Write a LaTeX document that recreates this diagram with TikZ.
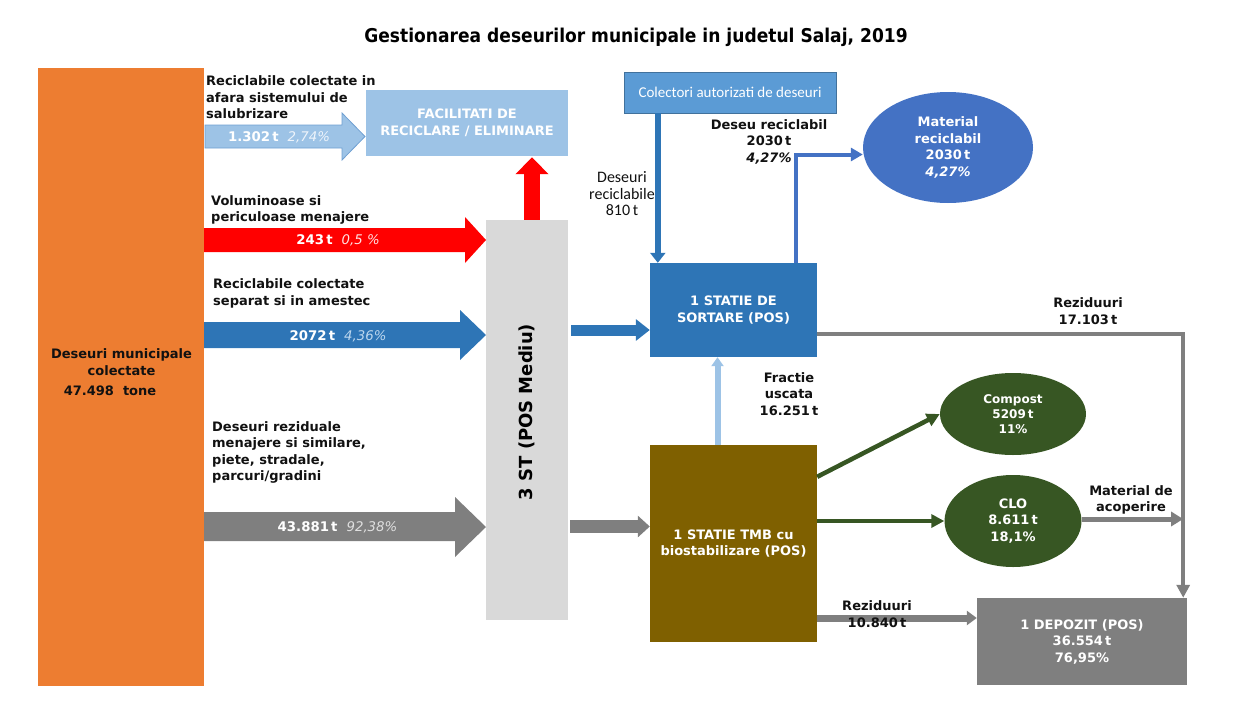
\documentclass[tikz,border=0pt]{standalone}
\usepackage{fontspec}
\setmainfont{DejaVu Sans}
\newfontfamily\titlefont[FakeStretch=0.9]{DejaVu Sans}
\newfontfamily\calib{Carlito}
\usetikzlibrary{arrows.meta,shapes.geometric,calc}
\definecolor{corange}{HTML}{ED7D31}
\definecolor{clb}{HTML}{9DC3E6}
\definecolor{clbb}{HTML}{6FA0D2}
\definecolor{cred}{HTML}{FF0000}
\definecolor{cblue}{HTML}{2E75B6}
\definecolor{cgray}{HTML}{7F7F7F}
\definecolor{cst}{HTML}{D9D9D9}
\definecolor{ccol}{HTML}{5B9BD5}
\definecolor{ccolb}{HTML}{41719C}
\definecolor{cmat}{HTML}{4472C4}
\definecolor{cgreen}{HTML}{375623}
\definecolor{ctmb}{HTML}{7F6000}
\definecolor{ctxt}{HTML}{111111}
\definecolor{plb}{HTML}{EEF4FB}
\definecolor{pred}{HTML}{FFE3E3}
\definecolor{pblue}{HTML}{BDD7EE}
\definecolor{pgray}{HTML}{E0E0E0}
\newcommand\pctf{\mdseries\itshape}
\begin{document}
\begin{tikzpicture}[x=1pt,y=-1pt,
  lbl/.style={font=\bfseries\fontsize{13}{16.5}\selectfont, text=ctxt, inner sep=0pt},
  lblL/.style={lbl, anchor=west, align=left},
  lblC/.style={lbl, align=center},
  blk/.style={rectangle, inner sep=0pt, align=center, text=white, font=\bfseries\fontsize{13}{16.5}\selectfont},
  ell/.style={ellipse, inner sep=0pt, align=center, text=white, font=\bfseries\fontsize{13}{16.5}\selectfont},
  intxt/.style={text=white, font=\bfseries\fontsize{13.3}{15}\selectfont, inner sep=0pt}
]
\useasboundingbox (0,0) rectangle (1252,704);

% title
\node[font=\titlefont\bfseries\fontsize{19}{21}\selectfont, text=black, inner sep=0pt] (title) at (636,37) {Gestionarea deseurilor municipale in judetul Salaj, 2019};

% main boxes
\node[blk, fill=corange, minimum width=166pt, minimum height=618pt] (orange) at (121,377) {};
\node[lblC] (orgtxt) at (121.5,362) {Deseuri municipale\\colectate};
\node[lbl] (orgval) at (110,391) {47.498\ \ tone};

\node[blk, fill=clb, minimum width=202pt, minimum height=66pt] (facil) at (467,123) {FACILITATI DE\\RECICLARE / ELIMINARE};
\node[blk, fill=cst, minimum width=82pt, minimum height=400pt] (st) at (527,420) {};
\node[font=\bfseries\fontsize{18}{20}\selectfont, text=black, rotate=90, inner sep=0pt] (sttxt) at (527,412) {3 ST (POS Mediu)};

\node[blk, fill=ccol, draw=ccolb, line width=0.8pt, minimum width=212pt, minimum height=41pt, font=\calib\fontsize{15}{17}\selectfont] (colect) at (730,92.5) {Colectori autorizati de deseuri};
\node[blk, fill=cblue, minimum width=167pt, minimum height=94pt] (sort) at (733.5,310) {1 STATIE DE\\SORTARE (POS)};
\node[blk, fill=ctmb, minimum width=167pt, minimum height=197pt] (tmb) at (733.5,543.5) {1 STATIE TMB cu\\biostabilizare (POS)};
\node[ell, fill=cmat, minimum width=170pt, minimum height=111pt] (matrec) at (948,147.5) {Material\\reciclabil\\2030\,t\\\textit{4,27\%}};
\node[ell, fill=cgreen, minimum width=146pt, minimum height=82pt, font=\bfseries\fontsize{12}{15}\selectfont] (compost) at (1013,414) {Compost\\5209\,t\\11\%};
\node[ell, fill=cgreen, minimum width=137pt, minimum height=92pt] (clo) at (1013,521) {CLO\\8.611\,t\\18,1\%};
\node[blk, fill=cgray, minimum width=210pt, minimum height=87pt] (depozit) at (1082,641.5) {1 DEPOZIT (POS)\\36.554\,t\\76,95\%};

% fat input arrows
\filldraw[fill=clb, draw=clbb, line width=0.8pt] (205,125) -- (342,125) -- (342,113) -- (365,136.5) -- (342,160) -- (342,148) -- (205,148) -- cycle;
\fill[cred] (204,228) -- (465,228) -- (465,217) -- (486,240) -- (465,263) -- (465,252) -- (204,252) -- cycle;
\fill[cblue] (204,322) -- (460,322) -- (460,310) -- (486,335) -- (460,360) -- (460,348) -- (204,348) -- cycle;
\fill[cgray] (204,512) -- (455,512) -- (455,497) -- (486,527) -- (455,557) -- (455,541) -- (204,541) -- cycle;

\node[intxt] (t1) at (279,137) {1.302\,t\hspace{9pt}{\pctf\color{plb}2,74\%}};
\node[intxt] (t2) at (338,240) {243\,t\hspace{9pt}{\pctf\color{pred}0,5 \%}};
\node[intxt] (t3) at (338,336) {2072\,t\hspace{9pt}{\pctf\color{pblue}4,36\%}};
\node[intxt] (t4) at (337.5,527) {43.881\,t\hspace{9pt}{\pctf\color{pgray}92,38\%}};

% left labels
\node[lblL] (l1) at (206,97.5) {Reciclabile colectate in\\afara sistemului de\\salubrizare};
\node[lblL] (l2) at (211,210) {Voluminoase si\\periculoase menajere};
\node[lblL] (l3) at (213,293.5) {Reciclabile colectate\\separat si in amestec};
\node[lblL] (l4) at (212,452.5) {Deseuri reziduale\\menajere si similare,\\piete, stradale,\\parcuri/gradini};

% connectors
\draw[cred, line width=16pt, -{Triangle[width=32pt,length=17pt]}] ($(st.north)+(5,0)$) -- ($(st.north |- facil.south)+(5,1)$);
\draw[cblue, line width=11pt, -{Triangle[width=21pt,length=14pt]}] ($(st.east |- sort.west)+(3,20)$) -- ($(sort.west)+(0,20)$);
\draw[cgray, line width=13pt, -{Triangle[width=21pt,length=12pt]}] ($(st.east |- tmb.west)+(2,-17)$) -- ($(tmb.west)+(0,-17)$);
\draw[cblue, line width=6.5pt, -{Triangle[width=15pt,length=10pt]}] ($(sort.north west |- colect.south)+(8,0)$) -- ($(sort.north west)+(8,0)$);
\draw[cmat, line width=4pt, -{Triangle[width=13pt,length=12pt]}] ($(sort.north)+(62,0)$) |- ($(matrec.west)+(0,7)$);
\draw[cgray, line width=4pt, -{Triangle[width=13pt,length=13pt]}] ($(sort.east)+(0,24)$) -| ($(depozit.north east)+(-4,0)$);
\draw[clb, line width=6pt, -{Triangle[width=12pt,length=9pt]}] ($(tmb.north)+(-16,0)$) -- ($(sort.south)+(-16,0)$);
\draw[cgreen, line width=4.5pt, -{Triangle[width=13pt,length=13pt]}] ($(tmb.north east)+(0,32)$) -- (compost.west);
\draw[cgreen, line width=4.5pt, -{Triangle[width=13pt,length=13pt]}] (tmb.east |- clo.west) -- (clo.west);
\coordinate (acop) at ($(depozit.north east |- clo.east)+(-4,-2)$);
\draw[cgray, line width=5pt, -{Triangle[width=14pt,length=12pt]}] ($(clo.east)+(0,-2)$) -- (acop);
\draw[cgray, line width=7pt, -{Triangle[width=14pt,length=10pt]}] ($(tmb.east |- depozit.west)+(0,-23.5)$) -- ($(depozit.west)+(0,-23.5)$);

% connector labels
\node[font=\calib\fontsize{16}{16.5}\selectfont, text=ctxt, align=center, inner sep=0pt] (l810) at (622,194) {Deseuri\\reciclabile\\810\,t};
\node[lblC] (ldr) at (769,141.5) {Deseu reciclabil\\2030\,t\\\textit{4,27\%}};
\node[lblC] (lrez1) at (1088,311) {Reziduuri\\17.103\,t};
\node[lblC] (lfr) at (789,394) {Fractie\\uscata\\16.251\,t};
\node[lblC] (lmat) at (1131,500) {Material de\\acoperire};
\node[lblC] (lrez2) at (877,614) {Reziduuri\\10.840\,t};
\end{tikzpicture}
\end{document}
